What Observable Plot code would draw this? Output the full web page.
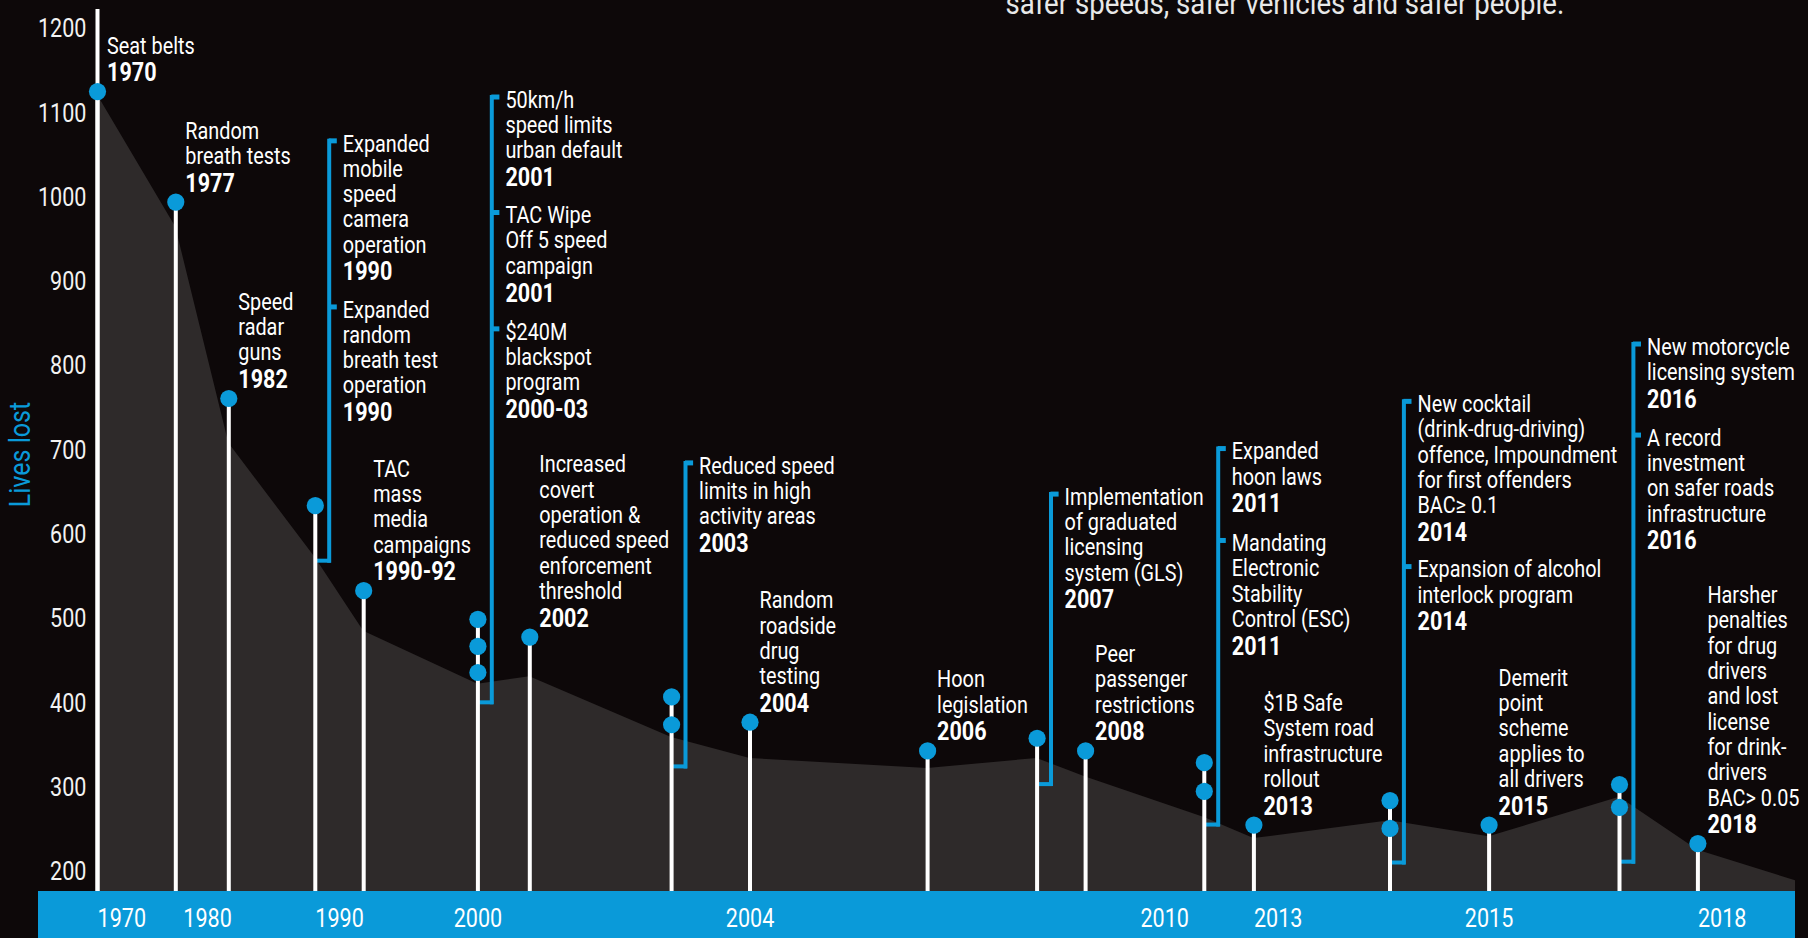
<!DOCTYPE html>
<html>
<head>
<meta charset="utf-8">
<script src="https://cdn.jsdelivr.net/npm/d3@7"></script>
<script src="https://cdn.jsdelivr.net/npm/@observablehq/plot@0.6"></script>
<style>
  html, body { margin: 0; padding: 0; background: #0d0809; overflow: hidden; }
  #chart svg { display: block; }
</style>
</head>
<body>
<div id="chart"></div>
<script>
// ---------------- DATA ----------------
// Lives lost (area outline)
const areaYears = [1970, 1977, 1982, 1990, 1992, 2000, 2002, 2003, 2004, 2006, 2007, 2008, 2011, 2013, 2014, 2015, 2016, 2018, 2019];
const livesLost = [1122, 965, 709, 573, 486, 423, 432, 360, 335, 323, 335, 313, 265, 240, 261, 242, 289, 226, 190];

// Blue markers on the stems
const dotYears  = [1970, 1977, 1982, 1990, 1992, 2000, 2000, 2000, 2002, 2003, 2003, 2004, 2006, 2007, 2008, 2011, 2011, 2013, 2014, 2014, 2015, 2016, 2016, 2018];
const dotValues = [1126, 995, 762, 635, 534, 500, 468, 437, 479, 408, 375, 378, 344, 359, 344, 330, 296, 256, 285, 252, 256, 304, 277, 234];

// Events (stem they belong to, description, year label, bracket tick level or null)
const eventStems = [1970, 1977, 1982, 1990, 1990, 1992, 2000, 2000, 2000, 2002, 2003, 2004, 2006, 2007, 2008, 2011, 2011, 2013, 2014, 2014, 2015, 2016, 2016, 2018];
const eventTexts = [
  "Seat belts",
  "Random\nbreath tests",
  "Speed\nradar\nguns",
  "Expanded\nmobile\nspeed\ncamera\noperation",
  "Expanded\nrandom\nbreath test\noperation",
  "TAC\nmass\nmedia\ncampaigns",
  "50km/h\nspeed limits\nurban default",
  "TAC Wipe\nOff 5 speed\ncampaign",
  "$240M\nblackspot\nprogram",
  "Increased\ncovert\noperation &\nreduced speed\nenforcement\nthreshold",
  "Reduced speed\nlimits in high\nactivity areas",
  "Random\nroadside\ndrug\ntesting",
  "Hoon\nlegislation",
  "Implementation\nof graduated\nlicensing\nsystem (GLS)",
  "Peer\npassenger\nrestrictions",
  "Expanded\nhoon laws",
  "Mandating\nElectronic\nStability\nControl (ESC)",
  "$1B Safe\nSystem road\ninfrastructure\nrollout",
  "New cocktail\n(drink-drug-driving)\noffence, Impoundment\nfor first offenders\nBAC≥ 0.1",
  "Expansion of alcohol\ninterlock program",
  "Demerit\npoint\nscheme\napplies to\nall drivers",
  "New motorcycle\nlicensing system",
  "A record\ninvestment\non safer roads\ninfrastructure",
  "Harsher\npenalties\nfor drug\ndrivers\nand lost\nlicense\nfor drink-\ndrivers\nBAC> 0.05"
];
const eventYearLabels = ["1970", "1977", "1982", "1990", "1990", "1990-92", "2001", "2001", "2000-03", "2002", "2003", "2004", "2006", "2007", "2008", "2011", "2011", "2013", "2014", "2014", "2015", "2016", "2016", "2018"];
const eventTicks = [null, null, null, 1067, 870, null, 1119, 982, 844, null, 685, null, null, 648, null, 702, 593, null, 758, 562, null, 826, 718, null];

// Blue brackets: stem and lower end level
const bracketStems   = [1990, 2000, 2003, 2007, 2011, 2014, 2016];
const bracketBottoms = [569, 401, 325, 304, 256, 211, 212];

// Axis labels
const axisYears = [1970, 1980, 1990, 2000, 2004, 2010, 2013, 2015, 2018];
const yTicks = [200, 300, 400, 500, 600, 700, 800, 900, 1000, 1100, 1200];
const subtitleTail = "safer speeds, safer vehicles and safer people.";

// ---------------- SCALE CONFIG (irregular timeline of the infographic) ----------------
const xBreaks = [1965, 1970, 1977, 1982, 1990, 1992, 2000, 2002, 2003, 2004, 2006, 2007, 2008, 2011, 2013, 2014, 2015, 2016, 2018, 2019];
const xPixels = [38, 97, 175.3, 228.3, 314.8, 363.2, 477.4, 529.3, 671.1, 749.5, 927.1, 1036.6, 1085.1, 1203.8, 1253.4, 1389.5, 1488.6, 1619, 1697.4, 1795];
const yDomain = [177.2, 1223.4];

// ---------------- STYLE ----------------
const BLUE = "#0a9ad9";
const AREA_FILL = "#2e2a2a";
const WHITE = "#ffffff";
const FONT = `Roboto, "Noto Sans", sans-serif`;
const DESC_SIZE = 23, YEAR_SIZE = 25, LINE = 25.3, YEAR_GAP = 27.7;
const PROBE_TEXT = "Expanded", PROBE_WIDTH = 87; // width of this word in the reference, for the condensed look

// ---------------- DERIVED TABLES ----------------
const area = areaYears.map((year, i) => ({year, lives: livesLost[i]}));
const dots = dotYears.map((year, i) => ({year, value: dotValues[i]}));
const stemTop = d3.rollup(dots, v => d3.max(v, d => d.value), d => d.year);
const stems = Array.from(stemTop, ([year, top]) => ({year, top}));
const events = eventStems.map((stem, i) => ({
  stem, text: eventTexts[i], year: eventYearLabels[i], tick: eventTicks[i], anchor: stemTop.get(stem)
}));
const brackets = bracketStems.map((stem, i) => ({
  stem, bottom: bracketBottoms[i], top: d3.max(events.filter(e => e.stem === stem), e => e.tick)
}));
const tickEvents = events.filter(e => e.tick != null);

const startAnchored = new Set([1970, 1990, 2013, 2018]);

// ---------------- LABEL MARKS ----------------
const labelMarks = events.flatMap(e => {
  const n = e.text.split("\n").length;
  const common = {x: "stem", textAnchor: "start", fill: WHITE};
  if (e.tick == null) {
    return [
      Plot.text([e], {...common, y: "anchor", text: "text", lineAnchor: "bottom", lineHeight: LINE / DESC_SIZE,
        dx: 9.5, dy: -10.4 - YEAR_GAP, fontSize: DESC_SIZE}),
      Plot.text([e], {...common, y: "anchor", text: "year", lineAnchor: "bottom",
        dx: 9.5, dy: -10.4, fontSize: YEAR_SIZE, fontWeight: "bold"})
    ];
  }
  return [
    Plot.text([e], {...common, y: "tick", text: "text", lineAnchor: "top", lineHeight: LINE / DESC_SIZE,
      dx: 27.5, dy: -7.8, fontSize: DESC_SIZE}),
    Plot.text([e], {...common, y: "tick", text: "year", lineAnchor: "bottom",
      dx: 27.5, dy: 10.2 + (n - 1) * LINE + YEAR_GAP, fontSize: YEAR_SIZE, fontWeight: "bold"})
  ];
});

// blue band under the chart
const band = (index, scales, values, dimensions) => {
  const x0 = scales.x(xBreaks[0]);
  const x1 = scales.x(xBreaks[xBreaks.length - 1]);
  const r = document.createElementNS("http://www.w3.org/2000/svg", "rect");
  r.setAttribute("x", x0);
  r.setAttribute("width", x1 - x0);
  r.setAttribute("y", dimensions.height - dimensions.marginBottom);
  r.setAttribute("height", dimensions.marginBottom);
  r.setAttribute("fill", BLUE);
  return r;
};

const chart = Plot.plot({
  width: 1808,
  height: 938,
  marginLeft: 97,
  marginRight: 13,
  marginTop: 9,
  marginBottom: 47,
  x: {type: "linear", domain: xBreaks, range: xPixels, axis: null},
  y: {domain: yDomain, axis: null},
  style: {background: "transparent", color: "#f2f2f2", fontFamily: FONT, fontSize: "23px"},
  marks: [
    // lives lost area
    Plot.areaY(area, {x: "year", y1: yDomain[0], y2: "lives", fill: AREA_FILL}),
    // brackets
    Plot.ruleX(brackets, {x: "stem", y1: "bottom", y2: "top", dx: 13.9, stroke: BLUE, strokeWidth: 4, strokeLinecap: "square"}),
    Plot.rect(brackets, {x1: "stem", x2: "stem", y1: "bottom", y2: "bottom", insetLeft: 0, insetRight: -15.9, insetTop: -2, insetBottom: -2, fill: BLUE}),
    Plot.rect(tickEvents, {x1: "stem", x2: "stem", y1: "tick", y2: "tick", insetLeft: 13.9, insetRight: -22, insetTop: -2.5, insetBottom: -2.5, fill: BLUE}),
    // stems
    Plot.ruleX([xBreaks[1]], {stroke: WHITE, strokeWidth: 4}),
    Plot.ruleX(stems, {x: "year", y1: yDomain[0], y2: "top", stroke: WHITE, strokeWidth: 4}),
    // markers
    Plot.dot(dots, {x: "year", y: "value", r: 8.6, fill: BLUE}),
    // labels
    ...labelMarks,
    // band + timeline labels
    band,
    Plot.text(axisYears.filter(d => startAnchored.has(d)), {x: d => d, text: d => String(d), frameAnchor: "bottom", lineAnchor: "bottom", textAnchor: "start", dy: 35, fill: WHITE, fontSize: 25}),
    Plot.text(axisYears.filter(d => !startAnchored.has(d)), {x: d => d, text: d => String(d), frameAnchor: "bottom", lineAnchor: "bottom", textAnchor: "middle", dy: 35, fill: WHITE, fontSize: 25}),
    // y axis
    Plot.axisY({ticks: yTicks, tickSize: 0, tickPadding: 11, fontSize: 25, label: null, tickFormat: d => String(d)}),
    Plot.text(["Lives lost"], {frameAnchor: "left", textAnchor: "middle", rotate: -90, dx: -77, dy: 4, fill: BLUE, fontSize: 29}),
    // tail of the subtitle, cut at the top edge
    Plot.text([subtitleTail], {frameAnchor: "top-left", textAnchor: "start", lineAnchor: "bottom", dx: 908, dy: 4.3, fill: "#e8e8e8", fontSize: 32})
  ]
});

document.getElementById("chart").appendChild(chart);

// Condense all text horizontally (the reference uses a narrow DIN-like face)
(function condense() {
  const ns = "http://www.w3.org/2000/svg";
  const probe = document.createElementNS(ns, "text");
  probe.setAttribute("font-family", FONT);
  probe.setAttribute("font-size", DESC_SIZE);
  probe.textContent = PROBE_TEXT;
  chart.appendChild(probe);
  const len = probe.getComputedTextLength();
  probe.remove();
  const s = len > 0 ? PROBE_WIDTH / len : 1;
  chart.querySelectorAll("text").forEach(t => {
    const tr = t.getAttribute("transform") || "";
    t.setAttribute("transform", `${tr} scale(${s},1)`);
  });
})();
</script>
</body>
</html>
